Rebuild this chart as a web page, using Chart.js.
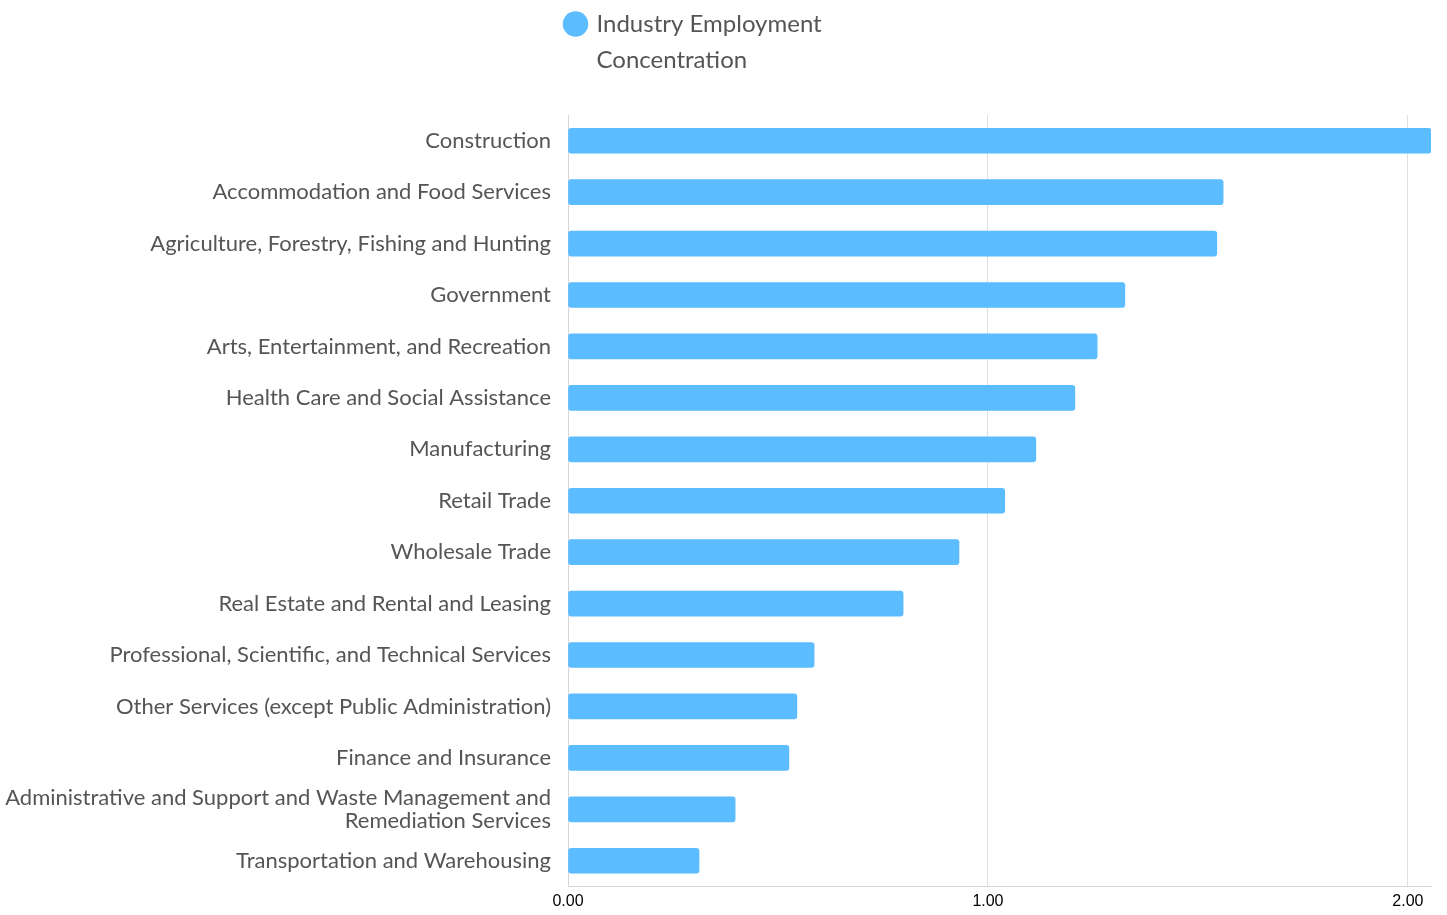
<!DOCTYPE html>
<html>
<head>
<meta charset="utf-8">
<script src="https://cdn.jsdelivr.net/npm/chart.js@4"></script>
<style>
  html, body { margin: 0; padding: 0; background: #fff; }
  #wrap { width: 1447px; height: 915px; }
</style>
</head>
<body>
<div id="wrap"><canvas id="industryChart"></canvas></div>
<script>
const industries = [
  'Construction',
  'Accommodation and Food Services',
  'Agriculture, Forestry, Fishing and Hunting',
  'Government',
  'Arts, Entertainment, and Recreation',
  'Health Care and Social Assistance',
  'Manufacturing',
  'Retail Trade',
  'Wholesale Trade',
  'Real Estate and Rental and Leasing',
  'Professional, Scientific, and Technical Services',
  'Other Services (except Public Administration)',
  'Finance and Insurance',
  ['Administrative and Support and Waste Management and', 'Remediation Services'],
  'Transportation and Warehousing'
];
const concentration = [2.055, 1.56, 1.545, 1.326, 1.26, 1.207, 1.114, 1.04, 0.931, 0.798, 0.586, 0.545, 0.526, 0.398, 0.312];
const seriesLabel = ['Industry Employment', 'Concentration'];
const tickValues = [0, 1, 2];

// the legend label has two lines, give the legend box room for both
const tallLegend = {
  id: 'tallLegend',
  beforeInit(chart) {
    const legend = chart.legend;
    const origFit = legend.fit;
    legend.fit = function() {
      origFit.call(this);
      this.height = 115;
      this.lineWidths = [310];
    };
  }
};

const ctx = document.getElementById('industryChart').getContext('2d');
const chart = new Chart(ctx, {
  type: 'bar',
  data: {
    labels: industries,
    datasets: [{
      label: seriesLabel,
      data: concentration,
      backgroundColor: '#5bbcff',
      borderRadius: 3,
      borderSkipped: false,
      barThickness: 25
    }]
  },
  plugins: [tallLegend],
  options: {
    indexAxis: 'y',
    responsive: true,
    maintainAspectRatio: false,
    animation: false,
    layout: { padding: { left: 0, right: 16, top: 0, bottom: 0 } },
    plugins: {
      legend: {
        position: 'top',
        labels: {
          usePointStyle: true,
          pointStyle: 'circle',
          boxWidth: 18,
          boxHeight: 18,
          padding: 12,
          color: '#555',
          font: { family: 'Lato', size: 24, lineHeight: 1.5 }
        }
      },
      tooltip: { enabled: false }
    },
    scales: {
      x: {
        min: 0,
        max: 2.055,
        afterBuildTicks: axis => {
          axis.ticks = tickValues.map(v => ({ value: v }));
        },
        afterFit: axis => { axis.height = 25; },
        grid: { color: '#e0e0e0', drawTicks: false },
        border: { color: '#d6d6d6' },
        ticks: {
          color: '#000',
          padding: 6,
          font: { family: 'Liberation Sans', size: 16 },
          callback: v => Number(v).toFixed(2)
        }
      },
      y: {
        afterFit: axis => { axis.width = 568; },
        grid: { display: false, drawTicks: false },
        border: { color: '#d6d6d6' },
        ticks: {
          color: '#555',
          padding: 17,
          font: { family: 'Lato', size: 22, lineHeight: 1.05 }
        }
      }
    }
  }
});
</script>
</body>
</html>
